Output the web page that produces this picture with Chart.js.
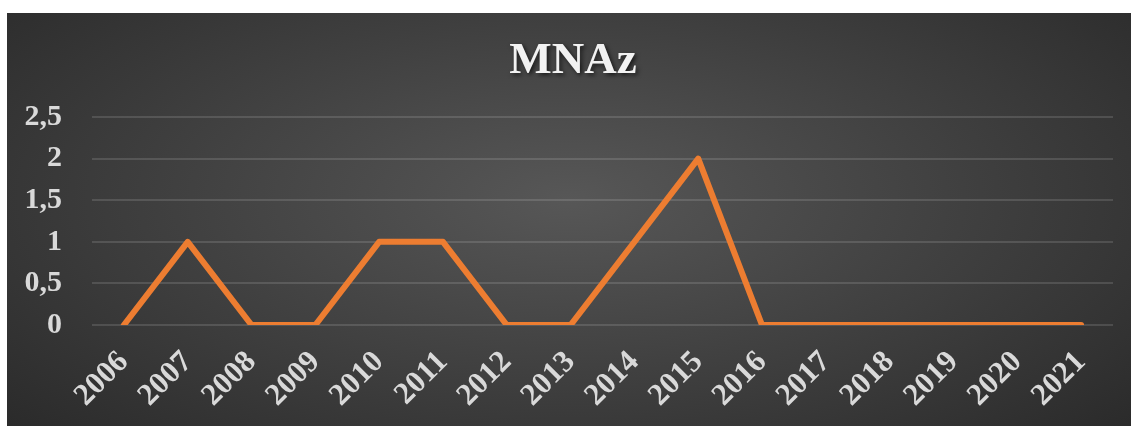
<!DOCTYPE html>
<html>
<head>
<meta charset="utf-8">
<script src="https://cdn.jsdelivr.net/npm/chart.js@4"></script>
<style>
html,body{margin:0;padding:0;background:#ffffff;width:1131px;height:426px;overflow:hidden;}
#wrap{position:absolute;left:7px;top:13px;width:1124px;height:413px;
background:radial-gradient(ellipse 75% 90% at 50% 45%, #575757 0%, #3c3c3c 55%, #262626 100%);}
canvas{display:block;}
</style>
</head>
<body>
<div id="wrap"><canvas id="c" width="1124" height="413"></canvas></div>
<script>
const categories = ['2006','2007','2008','2009','2010','2011','2012','2013','2014','2015','2016','2017','2018','2019','2020','2021'];
const mnazValues = [0,1,0,0,1,1,0,0,1,2,0,0,0,0,0,0];
const yTicks = [0,0.5,1,1.5,2,2.5];
const titleText = 'MNAz';

const serif = '"Liberation Serif","Times New Roman",serif';

const titlePlugin = {
  id:'shadowTitle',
  afterDraw(chart){
    const ctx = chart.ctx;
    ctx.save();
    ctx.font = 'bold 45px ' + serif;
    ctx.textAlign = 'center';
    ctx.textBaseline = 'alphabetic';
    ctx.fillStyle = '#f2f2f2';
    ctx.shadowColor = 'rgba(0,0,0,0.65)';
    ctx.shadowOffsetX = 2;
    ctx.shadowOffsetY = 2;
    ctx.shadowBlur = 4;
    ctx.fillText(titleText, 566, 60);
    ctx.restore();
  }
};

new Chart(document.getElementById('c'), {
  type:'line',
  data:{
    labels:categories,
    datasets:[{
      label:titleText,
      data:mnazValues,
      borderColor:'#ED7D31',
      borderWidth:6,
      borderJoinStyle:'round',
      borderCapStyle:'round',
      pointRadius:0,
      tension:0,
      fill:false
    }]
  },
  plugins:[titlePlugin],
  options:{
    responsive:false,
    animation:false,
    devicePixelRatio:1,
    layout:{padding:{left:0,right:18,top:104,bottom:0}},
    plugins:{
      legend:{display:false},
      tooltip:{enabled:false},
      title:{display:false}
    },
    scales:{
      x:{
        offset:true,
        grid:{display:false,drawTicks:false},
        border:{display:false},
        ticks:{
          color:'#d9d9d9',
          font:{family:serif,size:31,weight:'bold'},
          minRotation:45,maxRotation:45,autoSkip:false,padding:19
        },
        afterFit(s){ s.height = 101; }
      },
      y:{
        min:0,max:2.5,
        afterBuildTicks(s){ s.ticks = yTicks.map(v=>({value:v})); },
        grid:{color:'rgba(255,255,255,0.13)',lineWidth:2,drawTicks:false},
        border:{display:false},
        ticks:{
          color:'#d9d9d9',
          padding:30,
          font:{family:serif,size:30,weight:'bold'},
          callback:(v)=>String(v).replace('.',',')
        },
        afterFit(s){ s.width = 85; }
      }
    }
  }
});
</script>
</body>
</html>
